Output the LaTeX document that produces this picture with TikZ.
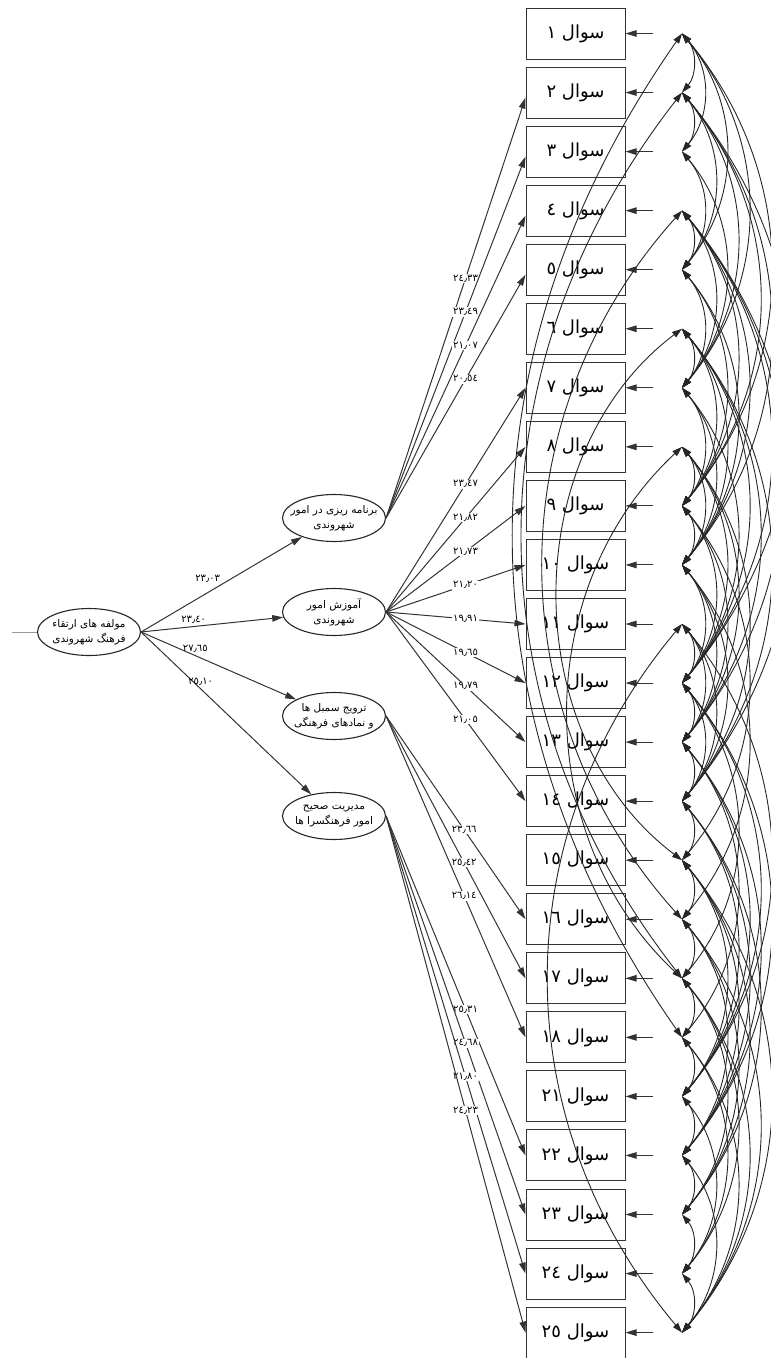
\documentclass[tikz,border=0pt]{standalone}
\usepackage{fontspec}
\newfontfamily\arabicfont[Script=Arabic]{DejaVu Sans}
\TeXXeTstate=1
\usetikzlibrary{arrows.meta,shapes.geometric}

\begin{document}
\begin{tikzpicture}[x=1pt,y=-1pt,
  item/.style={draw=black!80,line width=1pt,minimum width=99pt,minimum height=51pt,
    inner sep=0pt,font=\arabicfont\fontsize{18}{20}\selectfont},
  factor/.style={ellipse,draw=black!85,line width=1.1pt,minimum width=103pt,minimum height=47pt,
    inner sep=0pt},
  ftext/.style={align=center,inner sep=0pt,font=\arabicfont\fontsize{10.5}{15}\selectfont},
  load/.style={draw=black!80,line width=1pt,-{Triangle[length=11pt,width=6.5pt]}},
  err/.style={draw=black!80,line width=1pt,-{Triangle[length=11pt,width=6.5pt]}},
  cov/.style={draw=black!85,line width=0.9pt,
    {Triangle[length=10pt,width=6.5pt]}-{Triangle[length=10pt,width=6.5pt]}},
  lbl/.style={fill=white,inner sep=0.8pt,font=\arabicfont\fontsize{10}{11}\selectfont},
  lbltop/.style={inner sep=1pt,font=\arabicfont\fontsize{10}{11}\selectfont}]

\useasboundingbox (0,0) rectangle (771,1358);

% observed items and their error points
\foreach \i/\t in {1/١,2/٢,3/٣,4/٤,5/٥,6/٦,7/٧,8/٨,9/٩,10/١٠,11/١١,12/١٢,13/١٣,14/١٤,
  15/١٥,16/١٦,17/١٧,18/١٨,19/٢١,20/٢٢,21/٢٣,22/٢٤,23/٢٥}{
  \node[item] (q\i) at (575.5,{33.5+(\i-1)*59.05}) {\beginR سوال \t\endR};
  \coordinate (e\i) at (682,{33.5+(\i-1)*59.05});
  \coordinate (s\i) at (653,{33.5+(\i-1)*59.05});
  \draw[err] (s\i) -- (q\i);
}

% factors
\node[factor,label={[ftext]center:{\beginR مولفه های ارتقاء\endR\\\beginR فرهنگ شهروندی\endR}}] (main) at (89,632) {};
\node[factor,label={[ftext]center:{\beginR برنامه ریزی در امور\endR\\\beginR شهروندی\endR}}] (f1) at (334,518) {};
\node[factor,label={[ftext]center:{\beginR آموزش امور\endR\\\beginR شهروندی\endR}}] (f2) at (334,612) {};
\node[factor,label={[ftext]center:{\beginR ترویج سمبل ها\endR\\\beginR و نمادهای فرهنگی\endR}}] (f3) at (334,716) {};
\node[factor,label={[ftext]center:{\beginR مدیریت صحیح\endR\\\beginR امور فرهنگسرا ها\endR}}] (f4) at (334,816) {};

\coordinate (lft) at (12,632);
\draw[black!40,line width=0.6pt] (lft) -- (main.west);

% second order paths
\draw[load] (main.east) -- node[lbltop,pos=.5,above left]{٢٣٫٠٣} (f1);
\draw[load] (main.east) -- node[lbltop,pos=.37,above=1pt]{٢٣٫٤٠} (f2);
\draw[load] (main.east) -- node[lbltop,pos=.35,above=2pt]{٢٧٫٦٥} (f3);
\draw[load] (main.east) -- node[lbltop,pos=.35,above=2pt]{٢٥٫١٠} (f4);

% first order loadings
\foreach \i/\v in {2/٢٤٫٣٣,3/٢٣٫٤٩,4/٢١٫٠٧,5/٢٠٫٥٤}
  \draw[load] (f1.east) -- node[lbl,pos=.57]{\v} ([yshift=-5pt]q\i.west);
\foreach \i/\v in {7/٢٣٫٤٧,8/٢١٫٨٢,9/٢١٫٧٣,10/٢١٫٢٠,11/١٩٫٩١,12/١٩٫٦٥,13/١٩٫٧٩,14/٢١٫٠٥}
  \draw[load] (f2.east) -- node[lbl,pos=.57]{\v} (q\i.west);
\foreach \i/\v in {16/٢٣٫٦٦,17/٢٥٫٤٢,18/٢٦٫١٤}
  \draw[load] (f3.east) -- node[lbl,pos=.56]{\v} (q\i.west);
\foreach \i/\v in {20/٢٥٫٣١,21/٢٤٫٦٨,22/٢١٫٨٠,23/٢٤٫٢٣}
  \draw[load] (f4.east) -- node[lbl,pos=.57]{\v} (q\i.west);

% error covariances, right side
\foreach \a/\b in {1/2,1/3,1/5,1/7,1/9,
  2/3,2/5,2/7,2/9,2/10,2/12,
  3/5,3/7,
  4/5,4/7,4/9,4/10,4/12,4/13,4/14,
  5/7,5/9,5/10,
  6/7,6/9,6/10,6/12,6/13,6/14,
  7/9,7/10,7/12,
  8/9,8/10,8/12,8/13,8/14,
  9/10,9/12,9/13,9/15,
  10/12,10/13,10/14,10/16,
  11/12,11/13,11/14,11/19,
  12/13,12/14,12/17,12/19,12/20,
  13/14,13/18,13/19,13/20,
  14/15,14/19,14/20,14/21,
  15/16,15/19,15/20,15/21,15/23,
  16/17,16/20,16/21,16/23,
  17/18,17/21,17/22,17/23,
  18/19,18/22,18/23,
  19/20,19/22,
  20/21,20/23,
  21/22,22/23}
  \draw[cov] (e\a) to[bend left=40] (e\b);

% error covariances, left side
\foreach \a/\b/\ang in {1/18/35,2/17/38,4/16/42,6/15/53,8/17/47,11/23/40}
  \draw[cov] (e\a) to[bend right=\ang] (e\b);

\end{tikzpicture}
\end{document}
